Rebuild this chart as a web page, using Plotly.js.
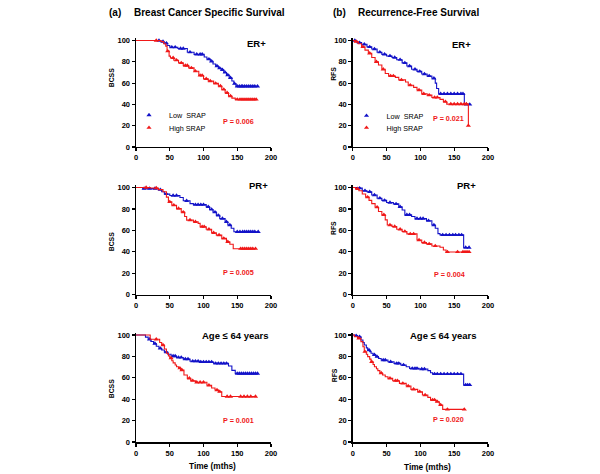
<!DOCTYPE html>
<html>
<head>
<meta charset="utf-8">
<script src="https://cdn.plot.ly/plotly-3.0.1.min.js"></script>
<style>
  html, body { margin: 0; padding: 0; background: #fff; }
  #chart { width: 600px; height: 474px; }
</style>
</head>
<body>
<div id="chart"></div>
<script>
// Kaplan-Meier curves: drop times (months), survival after each drop (%),
// and censoring times (triangles).

// ER+ / BCSS
const erBcssLowTimes = [37, 41, 46, 50, 62, 76, 86, 101, 105, 110, 114, 118, 122, 126, 130, 134, 138, 142, 145, 148];
const erBcssLowSurv = [99, 97.5, 95.3, 93.7, 92.5, 89, 87, 84.5, 82.5, 80.5, 78, 76, 74, 72.5, 70, 67.5, 65, 62, 59.5, 57];
const erBcssLowCens = [34, 40, 45, 53, 58, 66, 70, 80, 90, 95, 98, 108, 112, 120, 124, 128, 132, 136, 140, 146, 150, 153, 156, 158, 161, 164, 167, 170, 173, 176, 180];
const erBcssHighTimes = [37, 41, 44, 46, 49, 51, 56, 63, 70, 78, 86, 93, 100, 107, 115, 122, 127, 132, 137, 142, 147];
const erBcssHighSurv = [99, 97, 94.7, 90, 85.3, 83.7, 81.5, 79, 76.5, 74.3, 71.2, 67.2, 64, 61.9, 59.7, 57.2, 54, 50.9, 47.8, 45.9, 44.7];
const erBcssHighCens = [30, 47, 55, 60, 67, 73, 76, 82, 88, 95, 98, 104, 110, 118, 125, 130, 135, 140, 150, 154, 157, 160, 163, 166, 169, 172, 175, 178];

// ER+ / RFS
const erRfsLowTimes = [6, 13, 21, 28, 36, 43, 50, 58, 65, 73, 80, 87, 95, 102, 110, 117, 122, 124, 127, 165];
const erRfsLowSurv = [98, 96.5, 94, 92, 89, 87, 85.5, 84, 82, 79, 76, 73, 71, 68.5, 66.7, 64.5, 60, 55, 50, 40];
const erRfsLowCens = [3, 10, 17, 25, 32, 40, 47, 55, 62, 70, 77, 84, 92, 99, 106, 113, 120, 130, 135, 140, 145, 150, 155, 160, 163, 168, 173];
const erRfsHighTimes = [3, 8, 13, 18, 23, 28, 33, 38, 43, 48, 53, 63, 68, 78, 82, 90, 95, 102, 110, 117, 129, 134, 139, 171];
const erRfsHighSurv = [99, 97, 94, 91, 88, 84, 80, 77, 73, 69, 66.7, 65.4, 63, 61, 58, 56, 53.5, 50, 48.7, 46.5, 44.7, 42.5, 40.3, 20];
const erRfsHighCens = [5, 15, 25, 35, 45, 56, 60, 72, 85, 98, 105, 113, 121, 125, 137, 145, 150, 155, 160, 165, 168, 171];

// PR+ / BCSS
const prBcssLowTimes = [10, 33, 38, 42, 50, 65, 70, 80, 85, 104, 109, 114, 119, 124, 132, 136, 141, 145];
const prBcssLowSurv = [99, 98, 96, 94, 92.5, 90.7, 87.6, 85, 84, 82, 79.5, 77, 74, 71, 68, 65, 62, 58.7];
const prBcssLowCens = [12, 20, 28, 36, 45, 55, 60, 75, 88, 92, 96, 100, 107, 112, 117, 122, 128, 134, 139, 150, 154, 158, 161, 164, 167, 170, 173, 176, 181];
const prBcssHighTimes = [21, 33, 40, 45, 48, 53, 60, 67, 72, 75, 85, 92, 95, 104, 112, 119, 127, 134, 139, 144];
const prBcssHighSurv = [99.5, 98, 96, 91, 86.6, 83.5, 80.4, 77, 73, 69.6, 68, 66.5, 63.4, 61, 57.8, 55.6, 52.5, 49.4, 47, 42.9];
const prBcssHighCens = [15, 30, 50, 56, 63, 70, 80, 88, 98, 101, 108, 115, 123, 130, 136, 155, 158, 161, 164, 167, 170, 173, 177];

// PR+ / RFS
const prRfsLowTimes = [6, 14, 21, 28, 36, 43, 50, 60, 68, 73, 77, 87, 92, 109, 117, 122, 126, 129, 164];
const prRfsLowSurv = [99.4, 97, 96, 93, 90, 88, 86, 84.7, 82, 79, 74.5, 73, 71, 69, 65, 62, 57, 55.8, 44];
const prRfsLowCens = [10, 18, 25, 32, 40, 47, 55, 64, 70, 80, 84, 95, 100, 104, 112, 120, 133, 138, 143, 148, 152, 157, 161, 167, 172];
const prRfsHighTimes = [4, 9, 14, 19, 24, 28, 33, 38, 43, 48, 51, 58, 65, 73, 80, 95, 102, 109, 117, 129, 134, 138];
const prRfsHighSurv = [98.8, 97, 94, 91, 88, 85, 81.6, 77.6, 74.5, 69.8, 65, 63.6, 61, 59, 56.7, 51, 48.6, 47.4, 45.5, 44.2, 41.7, 39.9];
const prRfsHighCens = [7, 22, 36, 46, 55, 62, 70, 77, 85, 90, 98, 106, 113, 122, 140, 155, 163, 166, 169, 172];

// Age <= 64 / BCSS
const ageBcssLowTimes = [14, 18, 22, 26, 30, 34, 38, 42, 47, 52, 60, 70, 80, 95, 115, 137, 142, 147];
const ageBcssLowSurv = [98, 96, 94, 92, 89.5, 87.5, 86, 84, 82, 80.4, 79, 77.5, 75.5, 74.8, 73.5, 71, 67, 64];
const ageBcssLowCens = [20, 28, 36, 45, 55, 58, 63, 67, 73, 77, 84, 88, 92, 96, 100, 104, 108, 112, 118, 122, 126, 130, 134, 150, 153, 156, 159, 162, 165, 168, 171, 174, 177, 180];
const ageBcssHighTimes = [21, 35, 38, 42, 45, 48, 50, 53, 55, 58, 60, 63, 66, 71, 76, 81, 88, 105, 112, 117, 122, 127];
const ageBcssHighSurv = [96, 93, 90.6, 87, 83, 80.5, 78.5, 76, 74, 72, 70.4, 69, 67.3, 62.6, 59.5, 57.3, 55.8, 53, 50.5, 48.6, 47, 42.5];
const ageBcssHighCens = [30, 40, 52, 65, 68, 79, 84, 90, 95, 100, 108, 120, 124, 135, 140, 155, 160, 165, 170, 177];

// Age <= 64 / RFS
const ageRfsLowTimes = [2.5, 7, 12, 15, 17, 20, 22, 25, 27, 30, 34, 38, 42, 52, 61, 71, 79, 84, 98, 111, 115, 118, 164];
const ageRfsLowSurv = [99.4, 98.4, 95.3, 93, 90.7, 88, 86, 84.5, 82.9, 81.5, 79.8, 78, 76.6, 75, 73.5, 72, 70.4, 68.8, 68.2, 66.7, 64.8, 63.6, 53.3];
const ageRfsLowCens = [5, 10, 24, 32, 36, 45, 48, 56, 65, 68, 75, 88, 92, 95, 102, 106, 121, 125, 130, 135, 140, 145, 150, 155, 160, 167, 170, 173];
const ageRfsHighTimes = [2.5, 7, 12, 15, 17, 20, 22, 25, 27, 30, 32, 35, 37, 40, 44, 48, 52, 59, 69, 79, 86, 96, 103, 111, 115, 123, 128, 133];
const ageRfsHighSurv = [98.4, 96.9, 93.8, 89, 84.4, 82, 79.8, 77.5, 75, 72.5, 70.4, 68.5, 66.7, 64.5, 62.6, 61, 59.5, 57.3, 54.8, 52.3, 49.2, 47, 43.9, 41.7, 39.3, 37.7, 34.6, 30.5];
const ageRfsHighCens = [9, 18, 28, 42, 55, 63, 66, 74, 82, 90, 99, 107, 118, 121, 125, 130, 140, 165];

const groupNames = ["Low  SRAP", "High SRAP"];
const panelLabels = ["ER+", "ER+", "PR+", "PR+", "Age \u2264 64 years", "Age \u2264 64 years"];
const pValues = ["P = 0.006", "P = 0.021", "P = 0.005", "P = 0.004", "P = 0.001", "P = 0.020"];
const yTitles = ["BCSS", "RFS", "BCSS", "RFS", "BCSS", "RFS"];
const xTickVals = [0, 50, 100, 150, 200];
const yTickVals = [0, 20, 40, 60, 80, 100];

const FONT = "Liberation Sans, Arial, Helvetica, sans-serif";
const BLUE = "#1212c8";
const RED = "#f01818";

// survival value in effect at time t (step function)
function survivalAt(times, surv, t) {
  let s = 100;
  for (let i = 0; i < times.length; i++) {
    if (times[i] <= t) s = surv[i];
  }
  return s;
}

function curveTraces(times, surv, cens, color, axisNum, groupIdx, legendId) {
  const xa = axisNum === 1 ? "x" : "x" + axisNum;
  const ya = axisNum === 1 ? "y" : "y" + axisNum;
  const end = Math.max(times[times.length - 1], cens[cens.length - 1]);
  const line = {
    x: [0, ...times, end],
    y: [100, ...surv, surv[surv.length - 1]],
    xaxis: xa, yaxis: ya,
    type: "scatter", mode: "lines",
    line: { color: color, width: 1.1, shape: "hv" },
    showlegend: false, hoverinfo: "skip"
  };
  const marks = {
    x: cens,
    y: cens.map(c => survivalAt(times, surv, c)),
    xaxis: xa, yaxis: ya,
    type: "scatter", mode: "markers",
    name: groupNames[groupIdx],
    marker: { symbol: "triangle-up", size: 4.5, color: color },
    cliponaxis: false,
    showlegend: !!legendId,
    legend: legendId || "legend"
  };
  return [line, marks];
}

const panels = [
  [erBcssLowTimes, erBcssLowSurv, erBcssLowCens, erBcssHighTimes, erBcssHighSurv, erBcssHighCens],
  [erRfsLowTimes, erRfsLowSurv, erRfsLowCens, erRfsHighTimes, erRfsHighSurv, erRfsHighCens],
  [prBcssLowTimes, prBcssLowSurv, prBcssLowCens, prBcssHighTimes, prBcssHighSurv, prBcssHighCens],
  [prRfsLowTimes, prRfsLowSurv, prRfsLowCens, prRfsHighTimes, prRfsHighSurv, prRfsHighCens],
  [ageBcssLowTimes, ageBcssLowSurv, ageBcssLowCens, ageBcssHighTimes, ageBcssHighSurv, ageBcssHighCens],
  [ageRfsLowTimes, ageRfsLowSurv, ageRfsLowCens, ageRfsHighTimes, ageRfsHighSurv, ageRfsHighCens]
];
const legendIds = [["legend", "legend2"], ["legend3", "legend4"]];

const traces = [];
panels.forEach((p, i) => {
  const lg = i < 2 ? legendIds[i] : [null, null];
  traces.push(...curveTraces(p[0], p[1], p[2], BLUE, i + 1, 0, lg[0]));
  traces.push(...curveTraces(p[3], p[4], p[5], RED, i + 1, 1, lg[1]));
});

// plot domains (paper fractions), columns a / b and three rows
const xDomains = [[0.2267, 0.4517], [0.588, 0.8133]];
const yDomains = [[0.6899, 0.9190], [0.3783, 0.6089], [0.0675, 0.2977]];

const tickFont = { family: FONT, size: 7.5, weight: "bold", color: "#000" };
const layout = {
  width: 600, height: 474,
  margin: { l: 0, r: 0, t: 0, b: 0 },
  paper_bgcolor: "#fff", plot_bgcolor: "#fff",
  font: { family: FONT, color: "#000" },
  annotations: []
};

for (let i = 0; i < 6; i++) {
  const col = i % 2, row = Math.floor(i / 2);
  const suffix = i === 0 ? "" : String(i + 1);
  layout["xaxis" + suffix] = {
    domain: xDomains[col], anchor: "y" + suffix, range: [0, 200],
    tickvals: xTickVals, showgrid: false, zeroline: false,
    showline: true, linecolor: "#000", linewidth: 1.5,
    ticks: "outside", ticklen: 3, tickwidth: 1.2, tickcolor: "#000",
    tickfont: tickFont, fixedrange: true
  };
  layout["yaxis" + suffix] = {
    domain: yDomains[row], anchor: "x" + suffix, range: [0, 102],
    tickvals: yTickVals, showgrid: false, zeroline: false,
    showline: true, linecolor: "#000", linewidth: 1.5,
    ticks: "outside", ticklen: 3, tickwidth: 1.2, tickcolor: "#000",
    tickfont: tickFont, fixedrange: true
  };
}

function px2x(px) { return px / 600; }
function px2y(py) { return 1 - py / 474; }
function note(text, px, py, opts) {
  layout.annotations.push(Object.assign({
    text: text, xref: "paper", yref: "paper",
    x: px2x(px), y: px2y(py), xanchor: "center", yanchor: "middle",
    showarrow: false, font: { family: FONT, size: 8, weight: "bold", color: "#000" }
  }, opts));
}

// column headings
const headFont = { family: FONT, size: 10, weight: "bold", color: "#000" };
note("(a)", 107, 12, { xanchor: "left", font: headFont });
note("Breast Cancer Specific Survival", 132, 12, { xanchor: "left", font: headFont });
note("(b)", 330.5, 12, { xanchor: "left", font: headFont });
note("Recurrence-Free Survival", 355.5, 12, { xanchor: "left", font: headFont });

// panel labels
const labelPos = [[268, 44], [473, 44.5], [270, 185.5], [478, 185.5], [270, 335], [478, 335]];
panelLabels.forEach((t, i) => {
  note(t, labelPos[i][0], labelPos[i][1], { xanchor: "right", font: { family: FONT, size: 9.5, weight: "bold", color: "#000" } });
});

// p values
const pPos = [[238, 121], [448.5, 118], [238.3, 272], [449, 274], [238, 420], [448.3, 419]];
pValues.forEach((t, i) => {
  note(t, pPos[i][0], pPos[i][1], { font: { family: FONT, size: 7.2, weight: "bold", color: RED } });
});

// y axis titles
const yTitlePos = [[111.7, 77.5], [333.3, 73.5], [111.7, 241.5], [333.3, 227.7], [111.2, 389], [334.2, 375]];
yTitles.forEach((t, i) => {
  note(t, yTitlePos[i][0], yTitlePos[i][1], { textangle: -90, font: { family: FONT, size: 6.8, weight: "bold", color: "#000" } });
});

// x axis titles under the bottom row
note("Time (mths)", 212, 466, { font: { family: FONT, size: 8.3, weight: "bold", color: "#000" } });
note("Time (mths)", 427.5, 466.5, { font: { family: FONT, size: 8.3, weight: "bold", color: "#000" } });

// one legend per entry so they can sit where the original has them
const legendFont = { family: FONT, size: 7.2, color: "#000" };
const legendSpots = [[129, 115], [129, 127.7], [346.5, 115.7], [346.5, 127.7]];
["legend", "legend2", "legend3", "legend4"].forEach((id, k) => {
  layout[id] = {
    x: px2x(legendSpots[k][0]), y: px2y(legendSpots[k][1]),
    xanchor: "left", yanchor: "middle",
    bgcolor: "rgba(0,0,0,0)", borderwidth: 0,
    font: legendFont, itemwidth: 30
  };
});

Plotly.newPlot("chart", traces, layout, { staticPlot: true, displayModeBar: false });
</script>
</body>
</html>
